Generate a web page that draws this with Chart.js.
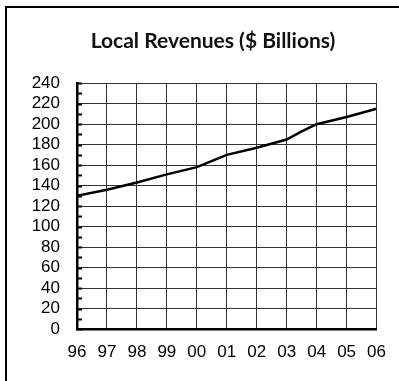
<!DOCTYPE html>
<html>
<head>
<meta charset="utf-8">
<script src="https://cdn.jsdelivr.net/npm/chart.js@4/dist/chart.umd.min.js"></script>
<style>
  html, body { margin: 0; padding: 0; background: #fff; }
  #frame {
    position: absolute; left: 5px; top: 6px; width: 400px; height: 380px;
    border-top: 2px solid #000; border-left: 2px solid #000;
  }
  #revChart { position: absolute; left: 0; top: 0; }
</style>
</head>
<body>
<div id="frame"></div>
<canvas id="revChart" width="399" height="381"></canvas>
<script>
// fiscal years (mid-2003 point picks up the jump before 04)
const years = [1996, 1997, 1998, 1999, 2000, 2001, 2002, 2003, 2003.5, 2004, 2005, 2006];
const revenues = [130, 136, 143, 151, 158, 170, 177, 185, 193, 200, 207, 215];

const yMin = 0, yMax = 240, yMajor = 20, yMinor = 10;
const xMin = 1996, xMax = 2006;

const gridColor = '#333';

// short tick marks on the inside of the value axis, every 10
const innerTicks = {
    id: 'innerTicks',
    afterLayout(chart) {
        // centre the title a bit further right than the full canvas width
        if (chart.titleBlock) chart.titleBlock.left += 45;
    },
    afterDraw(chart) {
        const y = chart.scales.y;
        const ctx = chart.ctx;
        ctx.save();
        ctx.strokeStyle = '#000';
        ctx.lineWidth = 2;
        y.ticks.forEach(t => {
            const py = Math.round(y.getPixelForValue(t.value)) + 0.5;
            ctx.beginPath();
            ctx.moveTo(y.right, py);
            ctx.lineTo(y.right + 5, py);
            ctx.stroke();
        });
        ctx.restore();
    }
};

new Chart(document.getElementById('revChart'), {
    type: 'line',
    data: {
        datasets: [{
            data: years.map((yr, i) => ({ x: yr, y: revenues[i] })),
            borderColor: '#000',
            borderWidth: 2.5,
            pointRadius: 0,
            tension: 0
        }]
    },
    options: {
        responsive: false,
        devicePixelRatio: 1,
        animation: false,
        layout: { padding: { left: 0, right: 18, top: 0, bottom: 0 } },
        plugins: {
            legend: { display: false },
            tooltip: { enabled: false },
            title: {
                display: true,
                text: 'Local Revenues ($ Billions)',
                color: '#111',
                font: { family: 'Lato', size: 21, weight: 'bold' },
                padding: { top: 29, bottom: 29 }
            }
        },
        scales: {
            x: {
                type: 'linear',
                min: xMin,
                max: xMax,
                ticks: {
                    stepSize: 1,
                    autoSkip: false,
                    color: '#000',
                    padding: 13,
                    font: { family: 'Liberation Sans', size: 17 },
                    callback: v => String(v).slice(2)
                },
                grid: { color: gridColor, lineWidth: 1, drawTicks: false },
                border: { color: '#000', width: 2.5 },
                afterFit: s => { s.height = 52; }
            },
            y: {
                min: yMin,
                max: yMax,
                ticks: {
                    stepSize: yMinor,
                    autoSkip: false,
                    color: '#000',
                    padding: 17,
                    font: { family: 'Liberation Sans', size: 17 },
                    callback: v => (v % yMajor === 0 ? v : '')
                },
                grid: {
                    drawTicks: false,
                    lineWidth: 1,
                    color: c => (c.tick && c.tick.value % yMajor === 0 ? gridColor : 'rgba(0,0,0,0)')
                },
                border: { color: '#000', width: 2.5 },
                afterFit: s => { s.width = 77; }
            }
        }
    },
    plugins: [innerTicks]
});
</script>
</body>
</html>
